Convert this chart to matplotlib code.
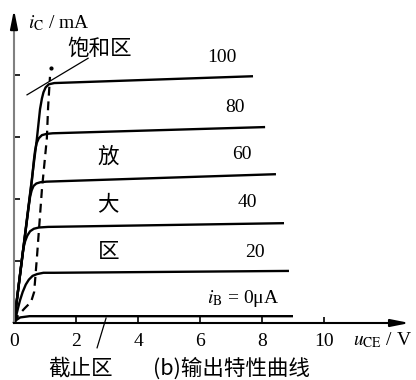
import matplotlib.pyplot as plt

plt.rcParams['mathtext.fontset'] = 'stix'
plt.rcParams['font.family'] = ['Liberation Serif', 'Noto Sans CJK SC', 'DejaVu Sans']

# output curves i_C (mA) vs u_CE (V), one per base current
ib_labels = ['100', '80', '60', '40', '20']
curve_x = [
    [0, 0.74, 0.84, 0.90, 0.95, 1.02, 1.12, 1.30, 7.71],
    [0, 0.58, 0.64, 0.68, 0.73, 0.80, 0.90, 1.05, 1.25, 8.10],
    [0, 0.48, 0.52, 0.57, 0.63, 0.72, 0.85, 1.05, 8.45],
    [0, 0.26, 0.30, 0.36, 0.43, 0.52, 0.64, 0.80, 1.10, 8.71],
    [0, 0.06, 0.12, 0.19, 0.28, 0.38, 0.48, 0.60, 0.75, 0.95, 1.30, 8.87],
    [0, 0.08, 0.20, 0.50, 9.00],
]
curve_y = [
    [0, 2.98, 3.45, 3.62, 3.72, 3.80, 3.85, 3.87, 3.98],
    [0, 2.31, 2.62, 2.78, 2.90, 2.98, 3.03, 3.05, 3.06, 3.16],
    [0, 1.90, 2.04, 2.14, 2.21, 2.25, 2.27, 2.28, 2.40],
    [0, 1.05, 1.20, 1.32, 1.41, 1.48, 1.52, 1.54, 1.55, 1.61],
    [0, 0.10, 0.22, 0.36, 0.50, 0.62, 0.70, 0.76, 0.79, 0.81, 0.81, 0.84],
    [0, 0.05, 0.09, 0.11, 0.11],
]
# saturation boundary (dashed)
sat_x = [0, 0.13, 0.35, 0.55, 0.65, 0.74, 0.90, 1.06, 1.10, 1.16]
sat_y = [0, 0.12, 0.24, 0.34, 0.50, 1.06, 2.15, 2.98, 3.48, 3.97]

x_ticks = [0, 2, 4, 6, 8, 10]
y_ticks = [1, 2, 3, 4]

fig = plt.figure(figsize=(4.16, 3.80), dpi=100)
ax = fig.add_axes([0, 0, 1, 1])
ax.set_xlim(-14 / 31, 402 / 31)
ax.set_ylim(-57 / 62, 323 / 62)

for xs, ys in zip(curve_x, curve_y):
    ax.plot(xs, ys, color='black', lw=1.7, solid_capstyle='butt', solid_joinstyle='round')
ax.plot(sat_x, sat_y, color='black', lw=1.6, ls=(0, (4, 2.6)))
ax.plot([1.19], [4.11], 'o', color='black', ms=2)

# axes through the origin
for s in ['top', 'right']:
    ax.spines[s].set_visible(False)
ax.spines['bottom'].set_position(('data', 0))
ax.spines['left'].set_position(('data', 0))
ax.spines['bottom'].set_bounds(0, 12.5)
ax.spines['left'].set_bounds(0, 4.9)
ax.spines['bottom'].set_linewidth(1.5)
ax.spines['left'].set_linewidth(1.5)
ax.spines['left'].set_color('#808080')
ax.annotate('', xy=(12.85, 0), xytext=(12.2, 0),
            arrowprops=dict(arrowstyle='-|>,head_length=1.1,head_width=0.22', color='black', lw=1.5))
ax.annotate('', xy=(0, 5.1), xytext=(0, 4.7),
            arrowprops=dict(arrowstyle='-|>,head_length=1.1,head_width=0.22', color='black', lw=1.5))

ax.set_xticks(x_ticks)
ax.set_xticklabels([str(v) for v in x_ticks], fontsize=14, family='Liberation Serif')
ax.set_yticks(y_ticks)
ax.set_yticklabels([])
ax.tick_params(axis='x', direction='in', length=4, width=1.2, pad=7)
ax.tick_params(axis='y', direction='in', length=4.5, width=1.2)
ax.xaxis.get_major_ticks()[-1].tick1line.set_color('#909090')

# leader lines
ax.plot([0.42, 2.39], [3.68, 4.27], color='black', lw=0.9)
ax.plot([2.68, 2.97], [-0.40, 0.08], color='black', lw=0.9)

num_pos = [(6.71, 4.29), (7.13, 3.48), (7.35, 2.71), (7.52, 1.94), (7.77, 1.13)]
for lab, (tx, ty) in zip(ib_labels, num_pos):
    ax.text(tx, ty, lab, fontsize=14, ha='center', va='center', family='Liberation Serif')
ax.text(7.39, 0.40, r'$i_{\rm B}$ = 0μA', fontsize=14, ha='center', va='center',
        family='Liberation Serif')
ax.text(0.45, 4.84, r'$i_{\rm C}$ / mA', fontsize=14, ha='left', va='center',
        family='Liberation Serif')
ax.text(10.94, -0.27, r'$u_{\rm CE}$ / V', fontsize=14, ha='left', va='center',
        family='Liberation Serif')

cjk = ['Noto Sans CJK SC', 'DejaVu Sans']
ax.text(2.77, 4.42, '饱和区', fontsize=15.5, ha='center', va='center', family=cjk, weight='light')
for ch, (tx, ty) in zip(['放', '大', '区'], [(3.03, 2.68), (3.03, 1.92), (3.06, 1.15)]):
    ax.text(tx, ty, ch, fontsize=15.5, ha='center', va='center', family=cjk, weight='light')
ax.text(2.15, -0.73, '截止区', fontsize=15.5, ha='center', va='center', family=cjk, weight='light')
ax.text(7.0, -0.73, '(b)输出特性曲线', fontsize=15.5, ha='center', va='center', family=cjk,
        weight='medium')

fig.savefig('out.png', dpi=100)
